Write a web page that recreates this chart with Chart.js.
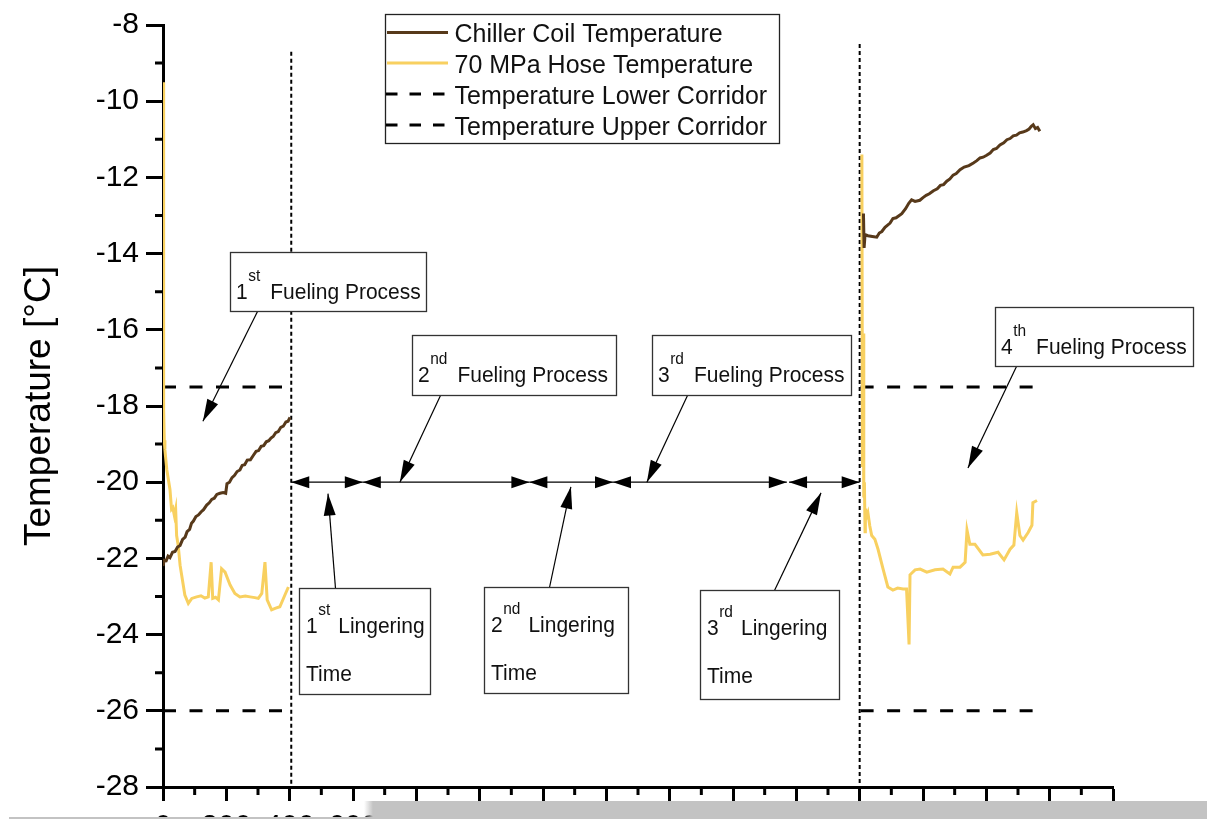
<!DOCTYPE html>
<html>
<head>
<meta charset="utf-8">
<script src="https://cdn.jsdelivr.net/npm/chart.js@4.4.1/dist/chart.umd.min.js"></script>
<style>
  html, body { margin: 0; padding: 0; background: #fff; }
  canvas { display: block; }
</style>
</head>
<body>
<canvas id="chart" width="1207" height="819"></canvas>
<script>
const FONT = '"Liberation Sans", Arial, sans-serif';

// chiller coil temperature, 1st and 4th fueling [s], [°C]
const coilTime1 = [0, 4, 10, 16, 22, 30, 38, 46, 54, 62, 70, 76, 84, 90, 96, 104, 112, 120, 128, 138, 146, 154, 162, 170, 180, 190, 198, 202, 210, 218, 226, 234, 243, 250, 258, 266, 276, 285, 294, 302, 310, 318, 326, 334, 341, 348, 356, 364, 372, 380, 388, 395, 401];
const coilTemp1 = [-22.20, -22.05, -22.06, -21.94, -21.98, -21.84, -21.82, -21.70, -21.66, -21.50, -21.44, -21.30, -21.24, -21.08, -21.02, -20.90, -20.86, -20.78, -20.72, -20.60, -20.54, -20.45, -20.42, -20.32, -20.29, -20.27, -20.29, -20.04, -20.00, -19.88, -19.82, -19.72, -19.68, -19.56, -19.54, -19.42, -19.41, -19.30, -19.19, -19.17, -19.06, -19.04, -18.94, -18.91, -18.84, -18.80, -18.70, -18.67, -18.56, -18.53, -18.42, -18.40, -18.30];
const coilTime4 = [2212, 2214, 2217, 2226, 2240, 2254, 2262, 2270, 2280, 2296, 2305, 2315, 2333, 2345, 2355, 2364, 2375, 2390, 2400, 2410, 2420, 2433, 2445, 2455, 2465, 2475, 2485, 2495, 2505, 2517, 2530, 2545, 2559, 2570, 2580, 2590, 2601, 2612, 2622, 2632, 2643, 2655, 2665, 2675, 2685, 2695, 2705, 2715, 2727, 2735, 2742, 2748, 2755, 2762, 2769];
const coilTemp4 = [-12.95, -13.85, -13.50, -13.53, -13.55, -13.57, -13.46, -13.42, -13.31, -13.20, -13.08, -13.06, -12.95, -12.82, -12.68, -12.59, -12.63, -12.60, -12.53, -12.47, -12.43, -12.35, -12.30, -12.21, -12.19, -12.10, -12.04, -11.94, -11.90, -11.80, -11.73, -11.69, -11.62, -11.56, -11.49, -11.47, -11.42, -11.36, -11.27, -11.24, -11.15, -11.09, -11.01, -10.98, -10.91, -10.89, -10.83, -10.81, -10.77, -10.73, -10.66, -10.62, -10.72, -10.69, -10.79];

// 70 MPa hose temperature
const hoseTime1 = [0, 1, 2, 3, 4, 6, 12, 22, 27, 31, 36, 40, 43, 48, 54, 59, 69, 80, 91, 106, 120, 132, 143, 152, 157, 166, 175, 185, 196, 212, 227, 243, 260, 275, 290, 301, 312, 322, 329, 343, 354, 369, 385, 396];
const hoseTemp1 = [-9.5, -13.5, -16.6, -18.1, -18.9, -19.15, -19.67, -20.19, -20.71, -20.67, -20.88, -20.71, -21.40, -21.66, -22.18, -22.44, -22.96, -23.18, -23.05, -23.01, -22.98, -23.04, -23.01, -22.10, -23.05, -23.02, -23.09, -22.27, -22.36, -22.70, -22.92, -23.01, -22.99, -23.01, -23.03, -23.05, -22.92, -22.10, -23.09, -23.35, -23.31, -23.27, -22.96, -22.75];
const hoseTime4 = [2207, 2209, 2211, 2213, 2215, 2217, 2218, 2222, 2226, 2232, 2238, 2248, 2258, 2274, 2289, 2305, 2320, 2337, 2348, 2356, 2359, 2375, 2391, 2412, 2438, 2463, 2485, 2495, 2517, 2533, 2539, 2548, 2564, 2589, 2612, 2637, 2656, 2675, 2687, 2696, 2706, 2716, 2732, 2744, 2747, 2760];
const hoseTemp4 = [-11.4, -19.6, -16.1, -20.4, -20.0, -21.3, -20.7, -20.9, -20.8, -21.15, -21.4, -21.5, -21.76, -22.28, -22.75, -22.83, -22.78, -22.8, -22.8, -24.26, -22.43, -22.3, -22.28, -22.36, -22.3, -22.28, -22.41, -22.23, -22.23, -22.1, -21.26, -21.63, -21.63, -21.91, -21.89, -21.84, -22.04, -21.76, -21.65, -20.8, -21.4, -21.52, -21.32, -21.13, -20.54, -20.48];

// temperature corridor and the time spans it is drawn over
const corridorLower = -26;
const corridorUpper = -17.5;
const corridorSpans = [[0, 380], [2203, 2748]];

// start of 2nd fueling / start of 4th fueling, and the top of those markers
const markerTimes = [405, 2200];
const markerTops = [-8.7, -8.5];

// fueling and lingering phases shown on the -20 °C line
const phaseLevel = -20;
const phaseSpans = [[405, 631], [631, 1157], [1157, 1421], [1421, 1970], [1977, 2200]];

// callout boxes: top-left corner in data units, size in px
const callouts = [
  { num: '1', sup: 'st', words: ['Fueling Process'], at: [211.6, -13.96], size: [196, 59], stem: 27, tip: [126, -18.4] },
  { num: '2', sup: 'nd', words: ['Fueling Process'], at: [786.3, -16.14], size: [204, 60], stem: 28, tip: [748, -20] },
  { num: '3', sup: 'rd', words: ['Fueling Process'], at: [1544.2, -16.14], size: [199, 60], stem: 35, tip: [1528, -20] },
  { num: '4', sup: 'th', words: ['Fueling Process'], at: [2627.4, -15.41], size: [198, 59], stem: 21, tip: [2542, -19.63] },
  { num: '1', sup: 'st', words: ['Lingering', 'Time'], at: [429.5, -22.77], size: [131, 106], stem: 36, up: true, tip: [521, -20.30] },
  { num: '2', sup: 'nd', words: ['Lingering', 'Time'], at: [1013.7, -22.75], size: [144, 106], stem: 65, up: true, tip: [1288, -20.12] },
  { num: '3', sup: 'rd', words: ['Lingering', 'Time'], at: [1695.8, -22.82], size: [139, 109], stem: 74, up: true, tip: [2078, -20.28] }
];

const COIL = '#57391a';
const HOSE = '#f8d060';

function pts(xs, ys) { return xs.map((x, i) => ({ x, y: ys[i] })); }
const gap = { x: 1300, y: null };

function corridor(level) {
  const out = [];
  corridorSpans.forEach(([a, b], i) => {
    if (i) out.push({ x: (a + corridorSpans[i - 1][1]) / 2, y: null });
    out.push({ x: a, y: level }, { x: b, y: level });
  });
  return out;
}

function segment(ctx, x1, y1, x2, y2) {
  ctx.beginPath(); ctx.moveTo(x1, y1); ctx.lineTo(x2, y2); ctx.stroke();
}

// filled arrow head with its point at (tx, ty), coming from (fx, fy)
function head(ctx, tx, ty, fx, fy, len, half) {
  const d = Math.hypot(tx - fx, ty - fy);
  const ux = (tx - fx) / d, uy = (ty - fy) / d;
  const bx = tx - ux * len, by = ty - uy * len;
  ctx.beginPath();
  ctx.moveTo(tx, ty);
  ctx.lineTo(bx - uy * half, by + ux * half);
  ctx.lineTo(bx + uy * half, by - ux * half);
  ctx.closePath();
  ctx.fill();
}

// text a little taller than wide, as in the callouts
function tallText(ctx, str, x, y, stretch) {
  ctx.save();
  ctx.translate(x, y);
  ctx.scale(1, stretch);
  ctx.fillText(str, 0, 0);
  ctx.restore();
}

const notes = {
  id: 'notes',
  afterDatasetsDraw(chart) {
    const { ctx } = chart;
    const xs = chart.scales.x, ys = chart.scales.y;
    ctx.save();
    ctx.strokeStyle = '#000';
    ctx.fillStyle = '#000';
    ctx.lineWidth = 1.3;

    const py = ys.getPixelForValue(phaseLevel);
    phaseSpans.forEach(([a, b]) => {
      const x1 = xs.getPixelForValue(a), x2 = xs.getPixelForValue(b);
      segment(ctx, x1, py, x2, py);
      head(ctx, x1, py, x2, py, 18, 6);
      head(ctx, x2, py, x1, py, 18, 6);
    });

    callouts.forEach(c => {
      const bx = Math.round(xs.getPixelForValue(c.at[0])) + 0.5;
      const by = Math.round(ys.getPixelForValue(c.at[1])) + 0.5;
      const [w, h] = c.size;
      const sx = bx + c.stem, sy = c.up ? by : by + h;
      const tx = xs.getPixelForValue(c.tip[0]), ty = ys.getPixelForValue(c.tip[1]);
      ctx.strokeStyle = '#000';
      ctx.fillStyle = '#000';
      ctx.lineWidth = 1.2;
      segment(ctx, sx, sy, tx, ty);
      head(ctx, tx, ty, sx, sy, 22, 6);

      ctx.fillStyle = '#fff';
      ctx.fillRect(bx, by, w, h);
      ctx.strokeStyle = '#333';
      ctx.lineWidth = 1.3;
      ctx.strokeRect(bx, by, w, h);

      const lingering = c.words.length > 1;
      const base = by + (lingering ? 44 : 46);
      const gapAfter = lingering ? 8 : 10;
      let x = bx + (lingering ? 6.5 : 5.5);
      ctx.fillStyle = '#111';
      ctx.textBaseline = 'alphabetic';
      ctx.textAlign = 'left';
      ctx.font = `21px ${FONT}`;
      tallText(ctx, c.num, x, base, 1.08);
      x += ctx.measureText(c.num).width + 0.5;
      ctx.font = `15.5px ${FONT}`;
      tallText(ctx, c.sup, x, base - 18, 1.08);
      x += ctx.measureText(c.sup).width + gapAfter;
      ctx.font = `21px ${FONT}`;
      tallText(ctx, c.words[0], x, base, 1.08);
      if (lingering) tallText(ctx, c.words[1], bx + 6.5, base + 48, 1.08);
    });
    ctx.restore();
  }
};

const legendBox = {
  id: 'legendBox',
  afterDraw(chart) {
    const { ctx } = chart;
    ctx.save();
    ctx.fillStyle = '#fff';
    ctx.fillRect(385.5, 14.5, 394, 129);
    ctx.strokeStyle = '#222';
    ctx.lineWidth = 1.3;
    ctx.strokeRect(385.5, 14.5, 394, 129);
    const rows = [32.5, 63, 94, 125];
    chart.data.datasets.slice(0, 4).forEach((ds, i) => {
      const y = rows[i];
      ctx.strokeStyle = ds.borderColor;
      ctx.lineWidth = 3;
      if (ds.borderDash) {
        ctx.setLineDash([11.5, 12]);
        segment(ctx, 386, y, 444.5, y);
        ctx.setLineDash([]);
      } else {
        segment(ctx, 387, y, 448, y);
      }
      ctx.fillStyle = '#111';
      ctx.font = `25px ${FONT}`;
      ctx.textBaseline = 'alphabetic';
      tallText(ctx, ds.label, 454.5, y + 9.5, 1.05);
    });
    ctx.restore();
  }
};

const minorTicks = {
  id: 'minorTicks',
  afterDraw(chart) {
    const { ctx, chartArea: a, scales: { x, y } } = chart;
    ctx.save();
    ctx.strokeStyle = '#000';
    ctx.lineWidth = 3;
    ctx.beginPath();
    for (let v = -27; v < -8; v += 2) {
      const p = y.getPixelForValue(v);
      ctx.moveTo(a.left - 8, p); ctx.lineTo(a.left, p);
    }
    for (let v = 100; v < 3000; v += 200) {
      const p = x.getPixelForValue(v);
      ctx.moveTo(p, a.bottom); ctx.lineTo(p, a.bottom + 8);
    }
    ctx.stroke();
    ctx.restore();
  }
};

// grey band along the lower edge
const bottomBand = {
  id: 'bottomBand',
  afterDraw(chart) {
    const { ctx } = chart;
    ctx.save();
    ctx.fillStyle = '#c3c3c3';
    ctx.fillRect(9, 817, 364, 2);
    ctx.fillRect(373, 801, 834, 18);
    const g = ctx.createLinearGradient(364, 0, 373, 0);
    g.addColorStop(0, 'rgba(195,195,195,0)');
    g.addColorStop(1, 'rgba(195,195,195,1)');
    ctx.fillStyle = g;
    ctx.fillRect(364, 801, 9, 16);
    ctx.restore();
  }
};

const dsBase = { pointRadius: 0, tension: 0, fill: false, spanGaps: false };

new Chart(document.getElementById('chart'), {
  type: 'line',
  data: {
    datasets: [
      { ...dsBase, label: 'Chiller Coil Temperature', data: [...pts(coilTime1, coilTemp1), gap, ...pts(coilTime4, coilTemp4)], borderColor: COIL, borderWidth: 3 },
      { ...dsBase, label: '70 MPa Hose Temperature', data: [...pts(hoseTime1, hoseTemp1), gap, ...pts(hoseTime4, hoseTemp4)], borderColor: HOSE, borderWidth: 3 },
      { ...dsBase, label: 'Temperature Lower Corridor', data: corridor(corridorLower), borderColor: '#000', borderWidth: 3, borderDash: [13, 13.5] },
      { ...dsBase, label: 'Temperature Upper Corridor', data: corridor(corridorUpper), borderColor: '#000', borderWidth: 3, borderDash: [13, 13.5] },
      ...markerTimes.map((t, i) => ({
        ...dsBase, label: 'marker', data: [{ x: t, y: markerTops[i] }, { x: t, y: -28 }],
        borderColor: '#000', borderWidth: 2, borderDash: [4, 3]
      }))
    ]
  },
  options: {
    responsive: false,
    animation: false,
    devicePixelRatio: 1,
    layout: { padding: { top: 18, right: 94, bottom: 0, left: 0 } },
    plugins: { legend: { display: false }, tooltip: { enabled: false } },
    scales: {
      x: {
        type: 'linear',
        min: 0,
        max: 3000,
        border: { width: 3, color: '#000' },
        grid: { drawOnChartArea: false, tickLength: 14, tickWidth: 3, tickColor: '#000' },
        ticks: { stepSize: 200, autoSkip: false, maxRotation: 0, padding: 8, color: '#000', font: { size: 30, family: FONT } },
        afterFit(scale) { scale.height = 32; }
      },
      y: {
        min: -28,
        max: -8,
        border: { width: 3, color: '#000' },
        grid: { drawOnChartArea: false, tickLength: 17, tickWidth: 3, tickColor: '#000' },
        ticks: { stepSize: 2, padding: 7, color: '#000', font: { size: 30, family: FONT } },
        title: { display: true, text: 'Temperature [°C]', color: '#000', font: { size: 37, family: FONT }, padding: { top: 18, bottom: 0 } },
        afterFit(scale) { scale.width = 163; }
      }
    }
  },
  plugins: [notes, legendBox, minorTicks, bottomBand]
});
</script>
</body>
</html>
